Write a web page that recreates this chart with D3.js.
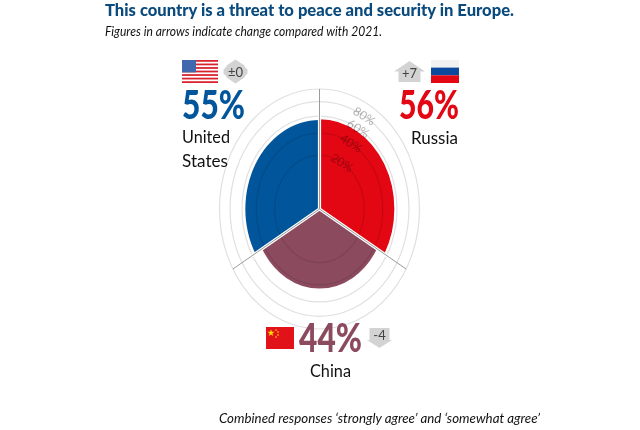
<!DOCTYPE html>
<html lang="en">
<head>
  <meta charset="utf-8" />
  <script src="https://d3js.org/d3.v7.min.js"></script>
  <style>
    html, body { margin: 0; padding: 0; background: #fff; }
    text { font-family: Lato, sans-serif; }
  </style>
</head>
<body>
  <div id="chart"></div>
  <script>
    'use strict';
    const title = "This country is a threat to peace and security in Europe.";
    const subtitle = "Figures in arrows indicate change compared with 2021.";
    const footnote = "Combined responses \u2018strongly agree\u2019 and \u2018somewhat agree\u2019";

    const countries = ["Russia", "China", "United States"];
    const values = [56, 44, 55];
    const changes = ["+7", "-4", "\u00b10"];
    const colors = ["#e30613", "#8c4a5f", "#00559b"];
    const rings = [20, 40, 60, 80, 100];
    const ringLabels = [20, 40, 60, 80];

    const svgWidth = 640;
    const svgHeight = 430;
    const cx = 319.5;
    const cy = 209;

    const svg = d3.select("#chart").append("svg")
      .attr("width", svgWidth).attr("height", svgHeight);

    // the source chart is stretched, so rings are ellipses: two sqrt scales (area scale)
    const rX = d3.scaleSqrt().domain([0, 100]).range([0, 100]);
    const rY = d3.scaleSqrt().domain([0, 100]).range([0, 120]);
    const angle = d3.scaleBand().domain(countries).range([0, 2 * Math.PI]);
    const arc = d3.arc().innerRadius(0);

    const plot = svg.append("g").attr("transform", `translate(${cx},${cy})`);

    // wedges
    plot.append("g").attr("transform", `scale(1,${rY(100) / rX(100)})`)
      .selectAll("path").data(countries).join("path")
      .attr("d", (d, i) => arc({
        outerRadius: rX(values[i]),
        startAngle: angle(d),
        endAngle: angle(d) + angle.bandwidth()
      }))
      .attr("fill", (d, i) => colors[i]);

    // rings
    plot.append("g").selectAll("ellipse").data(rings).join("ellipse")
      .attr("rx", d => rX(d)).attr("ry", d => rY(d))
      .attr("fill", "none").attr("stroke", "#e0e0e0").attr("stroke-width", 1.2)
      .style("mix-blend-mode", "multiply");

    // spokes between the wedges
    const spoke = d => [Math.sin(angle(d)) * rX(100), -Math.cos(angle(d)) * rY(100)];
    plot.append("g").selectAll("line").data(countries).join("line")
      .attr("x2", d => spoke(d)[0] * 0.8).attr("y2", d => spoke(d)[1] * 0.8)
      .attr("stroke", "#fff").attr("stroke-width", 3.2);
    plot.append("g").selectAll("line").data(countries).join("line")
      .attr("x2", d => spoke(d)[0]).attr("y2", d => spoke(d)[1])
      .attr("stroke", "#9a9a9a").attr("stroke-width", 1);

    // ring labels, along 30 degrees
    const labelAngle = Math.PI / 6;
    plot.append("g").selectAll("text").data(ringLabels).join("text")
      .attr("transform", d => `translate(${Math.sin(labelAngle) * rX(d)},${-Math.cos(labelAngle) * rY(d)}) rotate(33)`)
      .attr("text-anchor", "middle").attr("dy", "0.35em")
      .attr("font-size", 12).attr("fill", "#000").attr("fill-opacity", 0.32)
      .text(d => d + "%");

    // titles
    svg.append("text").attr("x", 105).attr("y", 15.5)
      .attr("font-size", 16).attr("font-weight", 900).attr("fill", "#0a4a7d")
      .attr("textLength", 409).attr("lengthAdjust", "spacingAndGlyphs").text(title);
    svg.append("text").attr("x", 105).attr("y", 35.5)
      .attr("font-size", 13).attr("font-style", "italic").attr("fill", "#111")
      .attr("textLength", 277).attr("lengthAdjust", "spacingAndGlyphs").text(subtitle);
    svg.append("text").attr("x", 219).attr("y", 423)
      .attr("font-size", 13).attr("font-style", "italic").attr("fill", "#111")
      .attr("textLength", 321).attr("lengthAdjust", "spacingAndGlyphs").text(footnote);

    // big percentages and names
    const bigText = (x, y, w, i) => svg.append("text").attr("x", x).attr("y", y)
      .attr("font-size", 39).attr("font-weight", 900).attr("fill", colors[i])
      .attr("textLength", w).attr("lengthAdjust", "spacingAndGlyphs").text(values[i] + "%");
    const nameText = (x, y, w, str) => svg.append("text").attr("x", x).attr("y", y)
      .attr("font-size", 17).attr("fill", "#111")
      .attr("textLength", w).attr("lengthAdjust", "spacingAndGlyphs").text(str);

    bigText(182, 119, 63, 2);
    bigText(399, 119, 60, 0);
    bigText(299, 352, 63, 1);
    nameText(182, 143, 48, "United");
    nameText(182, 167, 46, "States");
    nameText(411, 144, 47, countries[0]);
    nameText(310, 377, 41, countries[1]);

    // change badges
    const badge = (x, y, i, kind) => {
      const g = svg.append("g").attr("transform", `translate(${x},${y})`);
      const shapes = {
        up: "M-15.5,0 L0,-10.5 L15.5,0 L11,0 L11,10.5 L-11,10.5 L-11,0 Z",
        down: "M-10,-10 L10,-10 L10,2 L12.5,2 L0,10 L-12.5,2 L-10,2 Z",
        both: "M0,-12 L9,-6 L9,-5 L12,-2 L12,2 L9,5 L9,6 L0,12 L-9,6 L-9,5 L-12,2 L-12,-2 L-9,-5 L-9,-6 Z"
      };
      g.append("path").attr("d", shapes[kind]).attr("fill", "#d3d3d3");
      g.append("text").attr("text-anchor", "middle").attr("y", kind === "up" ? 6 : (kind === "down" ? 2 : 5))
        .attr("font-size", 13).attr("fill", "#444").text(changes[i]);
    };
    badge(235.5, 71.5, 2, "both");
    badge(409.5, 71.5, 0, "up");
    badge(379.5, 338, 1, "down");

    // flags
    const flag = (x, y, w, h) => svg.append("g").attr("transform", `translate(${x},${y})`)
      .call(g => g.append("rect").attr("width", w).attr("height", h).attr("fill", "#fff"));

    const usFlag = flag(182, 60, 36, 23);
    d3.range(0, 13, 2).forEach(k => usFlag.append("rect")
      .attr("y", k * 23 / 13).attr("width", 36).attr("height", 23 / 13).attr("fill", "#d8232f"));
    usFlag.append("rect").attr("width", 14).attr("height", 12.4).attr("fill", "#3f68ae");

    const ruFlag = flag(431, 60, 28, 23);
    ruFlag.append("rect").attr("width", 28).attr("height", 7.6).attr("fill", "#f1f1f1");
    ruFlag.append("rect").attr("y", 7.6).attr("width", 28).attr("height", 7.7).attr("fill", "#0b4a9c");
    ruFlag.append("rect").attr("y", 15.3).attr("width", 28).attr("height", 7.7).attr("fill", "#e30613");

    const cnFlag = flag(266, 327, 28, 22);
    cnFlag.select("rect").attr("fill", "#e2121b");
    cnFlag.append("path").attr("d", d3.symbol(d3.symbolStar, 16)())
      .attr("transform", "translate(5,6)").attr("fill", "#ffdd00");
    [[10, 3], [12, 5], [12, 8], [10, 10]].forEach(p => cnFlag.append("circle")
      .attr("cx", p[0]).attr("cy", p[1]).attr("r", 0.8).attr("fill", "#ffdd00"));
  </script>
</body>
</html>
